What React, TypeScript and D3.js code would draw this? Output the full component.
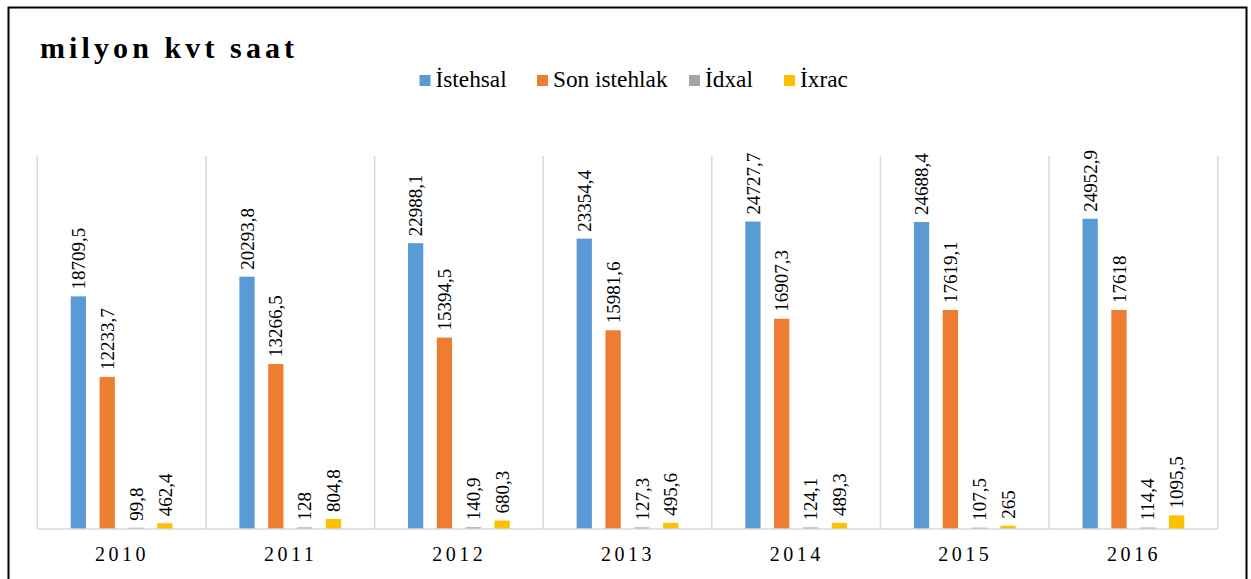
import React from "react";
import * as d3 from "d3";

const years = ["2010", "2011", "2012", "2013", "2014", "2015", "2016"];
const seriesNames = ["İstehsal", "Son istehlak", "İdxal", "İxrac"];
const istehsal = [18709.5, 20293.8, 22988.1, 23354.4, 24727.7, 24688.4, 24952.9];
const sonIstehlak = [12233.7, 13266.5, 15394.5, 15981.6, 16907.3, 17619.1, 17618];
const idxal = [99.8, 128, 140.9, 127.3, 124.1, 107.5, 114.4];
const ixrac = [462.4, 804.8, 680.3, 495.6, 489.3, 265, 1095.5];
const seriesLabels = [
  ["18709,5", "20293,8", "22988,1", "23354,4", "24727,7", "24688,4", "24952,9"],
  ["12233,7", "13266,5", "15394,5", "15981,6", "16907,3", "17619,1", "17618"],
  ["99,8", "128", "140,9", "127,3", "124,1", "107,5", "114,4"],
  ["462,4", "804,8", "680,3", "495,6", "489,3", "265", "1095,5"],
];
const colors = ["#5B9BD5", "#ED7D31", "#A5A5A5", "#FFC000"];
const yMax = 30000;

const W = 1251;
const H = 579;
const plotLeft = 37.3;
const plotRight = 1217.7;
const plotTop = 156;
const plotBottom = 529;

export default function App() {
  const seriesValues = [istehsal, sonIstehlak, idxal, ixrac];
  const x = d3.scaleBand<string>().domain(years).range([plotLeft, plotRight]).padding(0);
  const bw = x.bandwidth();
  const xi = d3
    .scaleBand<number>()
    .domain([0, 1, 2, 3])
    .range([0, bw])
    .paddingInner(0.47)
    .paddingOuter(1.16);
  const y = d3.scaleLinear().domain([0, yMax]).range([plotBottom, plotTop]);

  const legendX = [419.5, 537, 689, 784];
  const font = "'Liberation Serif', 'Times New Roman', Times, serif";

  return (
    <svg
      width={W}
      height={H}
      style={{ position: "absolute", left: 0, top: 0, background: "#fff", fontFamily: font }}
    >
      <rect x={0} y={0} width={W} height={H} fill="#fff" />
      <rect x={8.5} y={7.5} width={1238} height={620} fill="none" stroke="#000" strokeWidth={2} />
      <text
        x={40}
        y={57.5}
        fontSize={30}
        fontWeight="bold"
        letterSpacing={4.1}
        fill="#000"
        style={{ fontFamily: font }}
      >
        milyon kvt saat
      </text>
      {seriesNames.map((n, i) => (
        <g key={n}>
          <rect x={legendX[i]} y={75} width={11} height={11} fill={colors[i]} />
          <text x={legendX[i] + 16} y={87} fontSize={23.3} fill="#000" style={{ fontFamily: font }}>
            {n}
          </text>
        </g>
      ))}
      {years.map((yr) => (
        <line
          key={"g" + yr}
          x1={x(yr)}
          x2={x(yr)}
          y1={plotTop}
          y2={plotBottom}
          stroke="#D9D9D9"
          strokeWidth={1.5}
        />
      ))}
      <line x1={plotRight} x2={plotRight} y1={plotTop} y2={plotBottom} stroke="#D9D9D9" strokeWidth={1.5} />
      {seriesValues.map((vals, s) =>
        vals.map((v, i) => {
          const bx = (x(years[i]) as number) + (xi(s) as number);
          const by = y(v);
          const cx = bx + xi.bandwidth() / 2;
          return (
            <g key={s + "-" + i}>
              <rect x={bx} y={by} width={xi.bandwidth()} height={plotBottom - by} fill={colors[s]} />
              <text
                transform={`translate(${cx},${by - 7}) rotate(-90)`}
                dy="0.35em"
                fontSize={19}
                fill="#000"
                style={{ fontFamily: font }}
              >
                {seriesLabels[s][i]}
              </text>
            </g>
          );
        })
      )}
      <line x1={plotLeft} x2={plotRight} y1={plotBottom} y2={plotBottom} stroke="#D9D9D9" strokeWidth={1.5} />
      {years.map((yr) => (
        <text
          key={"t" + yr}
          x={(x(yr) as number) + bw / 2 + 0.5}
          y={561}
          fontSize={20}
          letterSpacing={3.5}
          textAnchor="middle"
          fill="#000"
          style={{ fontFamily: font }}
        >
          {yr}
        </text>
      ))}
    </svg>
  );
}
